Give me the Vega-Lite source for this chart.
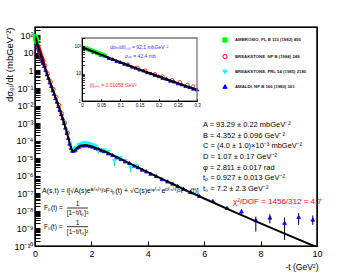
{
  "$schema": "https://vega.github.io/schema/vega-lite/v6.json",
  "width": 282,
  "height": 219,
  "autosize": {"type": "none"},
  "padding": {"left": 35, "top": 27, "right": 37, "bottom": 27},
  "background": "white",
  "config": {
    "view": {"stroke": "black", "strokeWidth": 1.2},
    "font": "Liberation Sans",
    "axis": {"labelFont": "Liberation Sans", "titleFont": "Liberation Sans", "domainColor": "black", "tickColor": "black", "labelColor": "black", "titleColor": "black", "titleFontWeight": "normal", "grid": false, "labelOverlap": false, "labelFlush": false, "labelBound": false}
  },
  "datasets": {
    "curve": [
      {"t":0,"v":92.14},{"t":0.05,"v":48.52},{"t":0.1,"v":26.06},{"t":0.15,"v":14.25},{"t":0.2,"v":7.92},{"t":0.25,"v":4.46},{"t":0.3,"v":2.545},{"t":0.4,"v":0.855},{"t":0.5,"v":0.2966},{"t":0.6,"v":0.1051},{"t":0.7,"v":0.03753},{"t":0.8,"v":0.01332},{"t":0.9,"v":0.004581},{"t":1.0,"v":0.001485},{"t":1.1,"v":0.000431},{"t":1.15,"v":0.0002197},{"t":1.2,"v":0.0001076},{"t":1.25,"v":0.0000531},{"t":1.3,"v":0.0000307},{"t":1.35,"v":0.0000253},{"t":1.4,"v":0.0000281},{"t":1.45,"v":0.0000341},{"t":1.5,"v":0.0000408},{"t":1.6,"v":0.0000513},{"t":1.8,"v":0.0000563},{"t":2.0,"v":0.0000485},{"t":2.5,"v":0.0000233},{"t":3.0,"v":0.00000969},{"t":3.5,"v":0.00000394},{"t":4.0,"v":0.000001611},{"t":4.5,"v":6.66e-7},{"t":5.0,"v":2.79e-7},{"t":5.5,"v":1.186e-7},{"t":6.0,"v":5.1e-8},{"t":7.0,"v":9.75e-9},{"t":8.0,"v":1.94e-9},{"t":9.0,"v":4.0e-10},{"t":10.0,"v":8.5e-11}
    ],
    "pts": [
      {"s":"D","t":0.02,"v":72},{"s":"D","t":0.03,"v":61},{"s":"D","t":0.04,"v":56},{"s":"D","t":0.05,"v":47.5},{"s":"D","t":0.06,"v":43.5},{"s":"D","t":0.07,"v":37},{"s":"D","t":0.08,"v":34},{"s":"D","t":0.09,"v":29},{"s":"D","t":0.1,"v":26.5},{"s":"D","t":0.11,"v":22.8},{"s":"D","t":0.12,"v":20.8},{"s":"D","t":0.13,"v":17.9},{"s":"D","t":0.14,"v":16.3},{"s":"D","t":0.15,"v":14.1},{"s":"D","t":0.16,"v":12.9},{"s":"D","t":0.17,"v":11.1},{"s":"D","t":0.18,"v":10.2},{"s":"D","t":0.19,"v":8.8},{"s":"D","t":0.2,"v":8.0},{"s":"D","t":0.21,"v":6.95},{"s":"D","t":0.22,"v":6.4},{"s":"D","t":0.23,"v":5.5},{"s":"D","t":0.24,"v":5.1},{"s":"D","t":0.25,"v":4.4},{"s":"D","t":0.26,"v":4.05},{"s":"D","t":0.27,"v":3.5},{"s":"D","t":0.28,"v":3.22},{"s":"D","t":0.29,"v":2.8},{"s":"D","t":0.3,"v":2.6},
      {"s":"D","t":0.33,"v":1.8},{"s":"D","t":0.38,"v":1.09},{"s":"D","t":0.43,"v":0.6},{"s":"D","t":0.48,"v":0.375},{"s":"D","t":0.53,"v":0.21},{"s":"D","t":0.58,"v":0.132},{"s":"D","t":0.63,"v":0.075},{"s":"D","t":0.68,"v":0.047},{"s":"D","t":0.73,"v":0.0268},{"s":"D","t":0.78,"v":0.0168},{"s":"D","t":0.83,"v":0.0094},{"s":"D","t":0.88,"v":0.0058},{"s":"D","t":0.93,"v":0.0032},{"s":"D","t":0.98,"v":0.0019},{"s":"D","t":1.03,"v":0.00101},{"s":"D","t":1.08,"v":0.00056},{"s":"D","t":1.13,"v":0.00028},{"s":"D","t":1.18,"v":0.000146},{"s":"D","t":1.23,"v":0.000069},{"s":"D","t":1.28,"v":0.000039},{"s":"D","t":1.33,"v":0.000027},{"s":"D","t":1.38,"v":0.0000275},{"s":"D","t":1.43,"v":0.000031},{"s":"D","t":1.48,"v":0.00004},{"s":"D","t":1.55,"v":0.000045},{"s":"D","t":1.65,"v":0.0000535},{"s":"D","t":1.75,"v":0.000054},{"s":"D","t":1.85,"v":0.000055},{"s":"D","t":1.95,"v":0.0000495},{"s":"D","t":2.05,"v":0.000046},{"s":"D","t":2.15,"v":0.000038},{"s":"D","t":2.25,"v":0.000034},{"s":"D","t":2.35,"v":0.0000285},{"s":"D","t":2.45,"v":0.0000255},{"s":"D","t":2.6,"v":0.000019},{"s":"D","t":2.75,"v":0.0000153},{"s":"D","t":2.9,"v":0.0000112},{"s":"D","t":3.05,"v":0.000009},{"s":"D","t":3.2,"v":0.0000066},{"s":"D","t":3.35,"v":0.0000053},{"s":"D","t":3.5,"v":0.00000385},{"s":"D","t":3.65,"v":0.0000031},{"s":"D","t":3.8,"v":0.00000225},{"s":"D","t":3.95,"v":0.0000018},{"s":"D","t":4.1,"v":0.00000132},{"s":"D","t":4.3,"v":9.7e-7},{"s":"D","t":4.5,"v":6.5e-7},{"s":"D","t":4.7,"v":4.8e-7},{"s":"D","t":4.88,"v":3.6e-7},{"s":"D","t":5.06,"v":2.6e-7},{"s":"D","t":5.27,"v":1.85e-7},{"s":"D","t":5.51,"v":1.22e-7},{"s":"D","t":5.83,"v":7.2e-8},{"s":"D","t":6.31,"v":3.7e-8},{"s":"D","t":6.81,"v":1.5e-8},
      {"s":"D","t":7.32,"v":9.5e-9,"lo":6.5e-9,"hi":1.2e-8},{"s":"D","t":7.83,"v":2.95e-9,"lo":6.6e-10,"hi":4.7e-9},{"s":"D","t":8.33,"v":4.2e-9,"lo":1.95e-9,"hi":6.5e-9},{"s":"D","t":8.85,"v":2.1e-9,"lo":2.2e-10,"hi":4.2e-9},{"s":"D","t":9.35,"v":4.5e-9,"lo":1.6e-9,"hi":7.5e-9},{"s":"D","t":9.85,"v":3.2e-9,"lo":1.6e-9,"hi":5.5e-9},
      {"s":"C","t":1.05,"v":0.00089},{"s":"C","t":1.15,"v":0.00025},{"s":"C","t":1.25,"v":0.000063},{"s":"C","t":1.35,"v":0.000032},{"s":"C","t":1.45,"v":0.00004},{"s":"C","t":1.55,"v":0.000056},{"s":"C","t":1.65,"v":0.000066},{"s":"C","t":1.75,"v":0.000071},{"s":"C","t":1.85,"v":0.000068},{"s":"C","t":1.95,"v":0.000063},{"s":"C","t":2.05,"v":0.000056},{"s":"C","t":2.15,"v":0.000047},{"s":"C","t":2.24,"v":0.00003,"lo":0.000018,"hi":0.000036},{"s":"C","t":2.45,"v":0.000028},{"s":"C","t":2.6,"v":0.000022},{"s":"C","t":2.82,"v":0.0000071,"lo":0.0000035,"hi":0.000009},{"s":"C","t":3.0,"v":0.00001},{"s":"C","t":3.2,"v":0.0000071},{"s":"C","t":3.39,"v":0.0000028,"lo":0.0000016,"hi":0.0000035},{"s":"C","t":3.6,"v":0.0000035},
      {"s":"B","t":0.12,"v":21.5},{"s":"B","t":0.145,"v":16.2},{"s":"B","t":0.165,"v":12.9},{"s":"B","t":0.19,"v":9.6},{"s":"B","t":0.21,"v":7.9},{"s":"B","t":0.235,"v":5.8},{"s":"B","t":0.255,"v":4.9},{"s":"B","t":0.275,"v":3.9},{"s":"B","t":0.29,"v":3.4},{"s":"B","t":0.35,"v":1.9},{"s":"B","t":0.45,"v":0.66},{"s":"B","t":0.55,"v":0.23},{"s":"B","t":0.65,"v":0.085},{"s":"B","t":0.75,"v":0.03},{"s":"B","t":0.85,"v":0.0105},{"s":"B","t":0.95,"v":0.0035},{"s":"B","t":1.05,"v":0.00105},{"s":"B","t":1.15,"v":0.00028},
      {"s":"A","t":0.005,"v":88},{"s":"A","t":0.01,"v":84},{"s":"A","t":0.015,"v":78},{"s":"A","t":0.02,"v":74},{"s":"A","t":0.025,"v":70},{"s":"A","t":0.03,"v":66},{"s":"A","t":0.035,"v":61},{"s":"A","t":0.04,"v":57},{"s":"A","t":0.045,"v":54},{"s":"A","t":0.05,"v":51},{"s":"A","t":0.055,"v":47},{"s":"A","t":0.06,"v":44}
    ]
  },
  "layer": [
    {
      "layer": [
        {"data": {"values": [{"k": 0}]},
         "mark": {"type": "rect", "fill": "transparent", "stroke": "black", "strokeWidth": 1.2},
         "encoding": {"x": {"datum": 0, "type": "quantitative", "scale": {"domain": [0, 10], "nice": false, "zero": false}}, "x2": {"datum": 10}, "y": {"datum": 1e-10, "type": "quantitative", "scale": {"type": "log", "domain": [1e-10, 300], "nice": false}}, "y2": {"datum": 300}}},
        {"data": {"name": "pts"}, "transform": [{"filter": "datum.s == 'D' && isValid(datum.lo)"}],
         "mark": {"type": "rule", "color": "black", "strokeWidth": 1},
         "encoding": {"x": {"field": "t", "type": "quantitative", "scale": {"domain": [0, 10], "nice": false, "zero": false}}, "y": {"field": "lo", "type": "quantitative", "scale": {"type": "log", "domain": [1e-10, 300], "nice": false}}, "y2": {"field": "hi"}}},
        {"data": {"name": "pts"}, "transform": [{"filter": "datum.s == 'C' && isValid(datum.lo)"}],
         "mark": {"type": "rule", "color": "#00e0e0", "strokeWidth": 1},
         "encoding": {"x": {"field": "t", "type": "quantitative", "scale": {"domain": [0, 10], "nice": false, "zero": false}}, "y": {"field": "lo", "type": "quantitative", "scale": {"type": "log", "domain": [1e-10, 300], "nice": false}}, "y2": {"field": "hi"}}},
        {"data": {"name": "pts"},
         "mark": {"type": "point", "size": 14, "strokeWidth": 0.8, "opacity": 1},
         "encoding": {
           "x": {"field": "t", "type": "quantitative", "scale": {"domain": [0, 10], "nice": false, "zero": false},
             "axis": {"values": [0,0.5,1,1.5,2,2.5,3,3.5,4,4.5,5,5.5,6,6.5,7,7.5,8,8.5,9,9.5,10],
               "labelExpr": "datum.value % 2 == 0 ? format(datum.value, 'd') : ''",
               "labelOverlap": false, "labelFlush": false, "labelFontSize": 9, "labelPadding": 8,
               "tickSize": -5, "tickWidth": 1, "domain": false,
               "title": "-t (GeV²)", "titleFontSize": 8.5, "titleX": 283, "titleY": 20, "titleAlign": "right", "titleBaseline": "middle", "titleAnchor": "end"}},
           "y": {"field": "v", "type": "quantitative", "scale": {"type": "log", "domain": [1e-10, 300], "nice": false},
             "axis": {"values": [1e-10,2e-10,3e-10,4e-10,5e-10,6e-10,7e-10,8e-10,9e-10,1e-9,2e-9,3e-9,4e-9,5e-9,6e-9,7e-9,8e-9,9e-9,1e-8,2e-8,3e-8,4e-8,5e-8,6e-8,7e-8,8e-8,9e-8,1e-7,2e-7,3e-7,4e-7,5e-7,6e-7,7e-7,8e-7,9e-7,1e-6,2e-6,3e-6,4e-6,5e-6,6e-6,7e-6,8e-6,9e-6,1e-5,2e-5,3e-5,4e-5,5e-5,6e-5,7e-5,8e-5,9e-5,1e-4,2e-4,3e-4,4e-4,5e-4,6e-4,7e-4,8e-4,9e-4,0.001,0.002,0.003,0.004,0.005,0.006,0.007,0.008,0.009,0.01,0.02,0.03,0.04,0.05,0.06,0.07,0.08,0.09,0.1,0.2,0.3,0.4,0.5,0.6,0.7,0.8,0.9,1,2,3,4,5,6,7,8,9,10,20,30,40,50,60,70,80,90,100,200,300],
               "labelExpr": "abs(log(datum.value)/LN10 - round(log(datum.value)/LN10)) > 0.001 ? '' : datum.value > 50 ? '10²' : datum.value > 5 ? '10' : datum.value > 0.5 ? '1' : datum.value > 0.05 ? '10⁻¹' : datum.value > 0.005 ? '10⁻²' : datum.value > 0.0005 ? '10⁻³' : datum.value > 0.00005 ? '10⁻⁴' : datum.value > 0.000005 ? '10⁻⁵' : datum.value > 0.0000005 ? '10⁻⁶' : datum.value > 0.00000005 ? '10⁻⁷' : datum.value > 0.000000005 ? '10⁻⁸' : datum.value > 0.0000000005 ? '10⁻⁹' : '10⁻¹⁰'",
               "labelOverlap": false, "labelFlush": false, "labelFontSize": 9, "labelPadding": 7,
               "tickSize": -5, "tickWidth": 1, "domain": false,
               "title": "dσₑₗ/dt (mbGeV⁻²)", "titleFontSize": 9.5, "titleAngle": -90, "titleX": -26, "titleY": 0, "titleAlign": "right", "titleBaseline": "middle", "titleAnchor": "end"}},
           "shape": {"field": "s", "type": "nominal", "scale": {"domain": ["A","B","C","D"], "range": ["square","circle","triangle-down","triangle-up"]},
             "legend": {"title": null, "orient": "none", "legendX": 187, "legendY": 10, "padding": 0, "labelFontSize": 4.3, "labelFont": "Liberation Sans Narrow, Liberation Sans", "labelFontWeight": "bold", "labelColor": "#222", "symbolSize": 18, "symbolStrokeWidth": 1, "rowPadding": 6.5, "labelOffset": 7, "labelLimit": 200,
               "labelExpr": "datum.label == 'A' ? 'AMBROSIO, PL B 115 (1982) 495' : datum.label == 'B' ? 'BREAKSTONE, NP B (1984) 248' : datum.label == 'C' ? 'BREAKSTONE, PRL 54 (1985) 2180' : 'AMALDI, NP B 166 (1980) 301'"}},
           "fill": {"field": "s", "type": "nominal", "scale": {"domain": ["A","B","C","D"], "range": ["#00ff00","transparent","#00ffff","#0000ff"]},
             "legend": {"title": null, "orient": "none", "legendX": 187, "legendY": 10, "padding": 0, "labelFontSize": 4.3, "labelFont": "Liberation Sans Narrow, Liberation Sans", "labelFontWeight": "bold", "labelColor": "#222", "symbolSize": 18, "symbolStrokeWidth": 1, "rowPadding": 6.5, "labelOffset": 7, "labelLimit": 200,
               "labelExpr": "datum.label == 'A' ? 'AMBROSIO, PL B 115 (1982) 495' : datum.label == 'B' ? 'BREAKSTONE, NP B (1984) 248' : datum.label == 'C' ? 'BREAKSTONE, PRL 54 (1985) 2180' : 'AMALDI, NP B 166 (1980) 301'"}},
           "stroke": {"field": "s", "type": "nominal", "scale": {"domain": ["A","B","C","D"], "range": ["#00ff00","#ff0000","#00ffff","#0000ff"]},
             "legend": {"title": null, "orient": "none", "legendX": 187, "legendY": 10, "padding": 0, "labelFontSize": 4.3, "labelFont": "Liberation Sans Narrow, Liberation Sans", "labelFontWeight": "bold", "labelColor": "#222", "symbolSize": 18, "symbolStrokeWidth": 1, "rowPadding": 6.5, "labelOffset": 7, "labelLimit": 200,
               "labelExpr": "datum.label == 'A' ? 'AMBROSIO, PL B 115 (1982) 495' : datum.label == 'B' ? 'BREAKSTONE, NP B (1984) 248' : datum.label == 'C' ? 'BREAKSTONE, PRL 54 (1985) 2180' : 'AMALDI, NP B 166 (1980) 301'"}}
         }},
        {"data": {"name": "curve"}, "mark": {"type": "line", "color": "black", "strokeWidth": 2, "clip": true},
         "encoding": {"x": {"field": "t", "type": "quantitative", "scale": {"domain": [0, 10], "nice": false, "zero": false}}, "y": {"field": "v", "type": "quantitative", "scale": {"type": "log", "domain": [1e-10, 300], "nice": false}}}},
        {"data": {"values": [{"k": 1}]},
         "mark": {"type": "text", "align": "left", "baseline": "top", "fontSize": 7.5, "lineHeight": 10.67, "font": "Liberation Sans",
           "text": ["A = 93.29  ± 0.22 mbGeV⁻²", "B = 4.352 ± 0.096 GeV⁻²", "C = (4.0 ± 1.0)×10⁻³ mbGeV⁻²", "D = 1.07 ± 0.17 GeV⁻²", "φ = 2.811 ± 0.017 rad", "tₚ = 0.927 ± 0.013 GeV⁻²", "t₀ = 7.2 ± 2.3 GeV⁻²"]},
         "encoding": {"x": {"datum": 5.957, "type": "quantitative", "scale": {"domain": [0, 10], "nice": false, "zero": false}}, "y": {"datum": 0.00133, "type": "quantitative", "scale": {"type": "log", "domain": [1e-10, 300], "nice": false}}}},
        {"data": {"values": [{"k": 2}]},
         "mark": {"type": "text", "align": "left", "baseline": "middle", "fontSize": 8, "color": "#ff0000", "font": "Liberation Sans", "text": "χ²/DOF = 1456/312 = 4.7"},
         "encoding": {"x": {"datum": 7.02, "type": "quantitative", "scale": {"domain": [0, 10], "nice": false, "zero": false}}, "y": {"datum": 3.21e-8, "type": "quantitative", "scale": {"type": "log", "domain": [1e-10, 300], "nice": false}}}},
        {"data": {"values": [{"k": 3}]},
         "mark": {"type": "text", "align": "left", "baseline": "middle", "fontSize": 7, "font": "Liberation Sans", "text": "A(s,t) = i[√A(s)eᴮ⁽ˢ⁾ᵗ/²F²ₚ(t) + √C(s)eⁱᵠ⁽ˢ⁾eᴰ⁽ˢ⁾ᵗ/²F²₀(t)]"},
         "encoding": {"x": {"datum": 0.248, "type": "quantitative", "scale": {"domain": [0, 10], "nice": false, "zero": false}}, "y": {"datum": 1.36e-7, "type": "quantitative", "scale": {"type": "log", "domain": [1e-10, 300], "nice": false}}}},
        {"data": {"values": [{"k": 4}]},
         "mark": {"type": "text", "align": "left", "baseline": "middle", "fontSize": 6.5, "font": "Liberation Sans", "text": "Fₚ(t) ="},
         "encoding": {"x": {"datum": 0.319, "type": "quantitative", "scale": {"domain": [0, 10], "nice": false, "zero": false}}, "y": {"datum": 1.46e-8, "type": "quantitative", "scale": {"type": "log", "domain": [1e-10, 300], "nice": false}}}},
        {"data": {"values": [{"k": 5}]},
         "mark": {"type": "text", "align": "center", "baseline": "middle", "fontSize": 6.5, "font": "Liberation Sans", "text": "1"},
         "encoding": {"x": {"datum": 1.507, "type": "quantitative", "scale": {"domain": [0, 10], "nice": false, "zero": false}}, "y": {"datum": 2.47e-8, "type": "quantitative", "scale": {"type": "log", "domain": [1e-10, 300], "nice": false}}}},
        {"data": {"values": [{"k": 6}]},
         "mark": {"type": "rule", "color": "black", "strokeWidth": 0.8},
         "encoding": {"x": {"datum": 1.135, "type": "quantitative", "scale": {"domain": [0, 10], "nice": false, "zero": false}}, "x2": {"datum": 1.879}, "y": {"datum": 1.46e-8, "type": "quantitative", "scale": {"type": "log", "domain": [1e-10, 300], "nice": false}}}},
        {"data": {"values": [{"k": 7}]},
         "mark": {"type": "text", "align": "center", "baseline": "middle", "fontSize": 6.5, "font": "Liberation Sans", "text": "[1−t/tₚ]²"},
         "encoding": {"x": {"datum": 1.507, "type": "quantitative", "scale": {"domain": [0, 10], "nice": false, "zero": false}}, "y": {"datum": 7.59e-9, "type": "quantitative", "scale": {"type": "log", "domain": [1e-10, 300], "nice": false}}}},
        {"data": {"values": [{"k": 8}]},
         "mark": {"type": "text", "align": "left", "baseline": "middle", "fontSize": 6.5, "font": "Liberation Sans", "text": "F₀(t) ="},
         "encoding": {"x": {"datum": 0.319, "type": "quantitative", "scale": {"domain": [0, 10], "nice": false, "zero": false}}, "y": {"datum": 1.26e-9, "type": "quantitative", "scale": {"type": "log", "domain": [1e-10, 300], "nice": false}}}},
        {"data": {"values": [{"k": 9}]},
         "mark": {"type": "text", "align": "center", "baseline": "middle", "fontSize": 6.5, "font": "Liberation Sans", "text": "1"},
         "encoding": {"x": {"datum": 1.507, "type": "quantitative", "scale": {"domain": [0, 10], "nice": false, "zero": false}}, "y": {"datum": 2.13e-9, "type": "quantitative", "scale": {"type": "log", "domain": [1e-10, 300], "nice": false}}}},
        {"data": {"values": [{"k": 10}]},
         "mark": {"type": "rule", "color": "black", "strokeWidth": 0.8},
         "encoding": {"x": {"datum": 1.135, "type": "quantitative", "scale": {"domain": [0, 10], "nice": false, "zero": false}}, "x2": {"datum": 1.879}, "y": {"datum": 1.26e-9, "type": "quantitative", "scale": {"type": "log", "domain": [1e-10, 300], "nice": false}}}},
        {"data": {"values": [{"k": 11}]},
         "mark": {"type": "text", "align": "center", "baseline": "middle", "fontSize": 6.5, "font": "Liberation Sans", "text": "[1−t/t₀]²"},
         "encoding": {"x": {"datum": 1.507, "type": "quantitative", "scale": {"domain": [0, 10], "nice": false, "zero": false}}, "y": {"datum": 6.53e-10, "type": "quantitative", "scale": {"type": "log", "domain": [1e-10, 300], "nice": false}}}}
      ]
    },
    {
      "layer": [
        {"data": {"name": "pts"}, "transform": [{"filter": "datum.t <= 0.301"}],
         "mark": {"type": "point", "size": 11, "strokeWidth": 0.8, "opacity": 1},
         "encoding": {
           "x": {"field": "t", "type": "quantitative", "scale": {"domain": [0, 0.3], "range": [47, 162], "nice": false, "zero": false},
             "axis": {"orient": "bottom", "offset": -145, "zindex": 1,
               "values": [0,0.05,0.1,0.15,0.2,0.25,0.3],
               "format": "~g",
               "labelOverlap": false, "labelFlush": false, "labelFontSize": 4.5, "labelPadding": 4,
               "tickSize": -2.5, "tickWidth": 0.8, "domain": true, "domainWidth": 1, "title": null}},
           "y": {"field": "v", "type": "quantitative", "scale": {"type": "log", "domain": [1, 200], "range": [74, 11], "nice": false},
             "axis": {"orient": "left", "offset": -47, "zindex": 1,
               "values": [1,2,3,4,5,6,7,8,9,10,20,30,40,50,60,70,80,90,100,200],
               "labelExpr": "datum.value == 1 ? '1' : datum.value == 10 ? '10' : datum.value == 100 ? '10²' : ''",
               "labelOverlap": false, "labelFlush": false, "labelFontSize": 4.5, "labelPadding": 4,
               "tickSize": -2.5, "tickWidth": 0.8, "domain": true, "domainWidth": 1, "title": null}},
           "shape": {"field": "s", "type": "nominal", "scale": {"domain": ["A","B","C","D"], "range": ["square","circle","triangle-down","triangle-up"]},
             "legend": {"title": null, "orient": "none", "legendX": 187, "legendY": 10, "padding": 0, "labelFontSize": 4.3, "labelFont": "Liberation Sans Narrow, Liberation Sans", "labelFontWeight": "bold", "labelColor": "#222", "symbolSize": 18, "symbolStrokeWidth": 1, "rowPadding": 6.5, "labelOffset": 7, "labelLimit": 200,
               "labelExpr": "datum.label == 'A' ? 'AMBROSIO, PL B 115 (1982) 495' : datum.label == 'B' ? 'BREAKSTONE, NP B (1984) 248' : datum.label == 'C' ? 'BREAKSTONE, PRL 54 (1985) 2180' : 'AMALDI, NP B 166 (1980) 301'"}},
           "fill": {"field": "s", "type": "nominal", "scale": {"domain": ["A","B","C","D"], "range": ["#00ff00","transparent","#00ffff","#0000ff"]},
             "legend": {"title": null, "orient": "none", "legendX": 187, "legendY": 10, "padding": 0, "labelFontSize": 4.3, "labelFont": "Liberation Sans Narrow, Liberation Sans", "labelFontWeight": "bold", "labelColor": "#222", "symbolSize": 18, "symbolStrokeWidth": 1, "rowPadding": 6.5, "labelOffset": 7, "labelLimit": 200,
               "labelExpr": "datum.label == 'A' ? 'AMBROSIO, PL B 115 (1982) 495' : datum.label == 'B' ? 'BREAKSTONE, NP B (1984) 248' : datum.label == 'C' ? 'BREAKSTONE, PRL 54 (1985) 2180' : 'AMALDI, NP B 166 (1980) 301'"}},
           "stroke": {"field": "s", "type": "nominal", "scale": {"domain": ["A","B","C","D"], "range": ["#00ff00","#ff0000","#00ffff","#0000ff"]},
             "legend": {"title": null, "orient": "none", "legendX": 187, "legendY": 10, "padding": 0, "labelFontSize": 4.3, "labelFont": "Liberation Sans Narrow, Liberation Sans", "labelFontWeight": "bold", "labelColor": "#222", "symbolSize": 18, "symbolStrokeWidth": 1, "rowPadding": 6.5, "labelOffset": 7, "labelLimit": 200,
               "labelExpr": "datum.label == 'A' ? 'AMBROSIO, PL B 115 (1982) 495' : datum.label == 'B' ? 'BREAKSTONE, NP B (1984) 248' : datum.label == 'C' ? 'BREAKSTONE, PRL 54 (1985) 2180' : 'AMALDI, NP B 166 (1980) 301'"}}
         }},
        {"data": {"name": "curve"}, "transform": [{"filter": "datum.t <= 0.301"}],
         "mark": {"type": "line", "color": "black", "strokeWidth": 2.2},
         "encoding": {"x": {"field": "t", "type": "quantitative", "scale": {"domain": [0, 0.3], "range": [47, 162], "nice": false, "zero": false}}, "y": {"field": "v", "type": "quantitative", "scale": {"type": "log", "domain": [1, 200], "range": [74, 11], "nice": false}}}},
        {"data": {"values": [{"k": 13}]},
         "mark": {"type": "text", "align": "left", "baseline": "middle", "fontSize": 5, "color": "#3333ff", "font": "Liberation Sans", "text": "dσₑₗ/dt|ₜ₌₀ = 92.1 mbGeV⁻²"},
         "encoding": {"x": {"datum": 0.073, "type": "quantitative", "scale": {"domain": [0, 0.3], "range": [47, 162], "nice": false, "zero": false}}, "y": {"datum": 93.8, "type": "quantitative", "scale": {"type": "log", "domain": [1, 200], "range": [74, 11], "nice": false}}}},
        {"data": {"values": [{"k": 14}]},
         "mark": {"type": "text", "align": "left", "baseline": "middle", "fontSize": 5, "color": "#3333ff", "font": "Liberation Sans", "text": "σₜₒₜ = 42.4 mb"},
         "encoding": {"x": {"datum": 0.112, "type": "quantitative", "scale": {"domain": [0, 0.3], "range": [47, 162], "nice": false, "zero": false}}, "y": {"datum": 44, "type": "quantitative", "scale": {"type": "log", "domain": [1, 200], "range": [74, 11], "nice": false}}}},
        {"data": {"values": [{"k": 15}]},
         "mark": {"type": "text", "align": "left", "baseline": "middle", "fontSize": 5, "color": "#ff2222", "font": "Liberation Sans", "text": "|t|ₘᵢₙ = 0.01058 GeV²"},
         "encoding": {"x": {"datum": 0.0209, "type": "quantitative", "scale": {"domain": [0, 0.3], "range": [47, 162], "nice": false, "zero": false}}, "y": {"datum": 3.84, "type": "quantitative", "scale": {"type": "log", "domain": [1, 200], "range": [74, 11], "nice": false}}}},
        {"data": {"values": [{"k": 12}]},
         "mark": {"type": "rect", "fill": "transparent", "stroke": "#777777", "strokeWidth": 1.3},
         "encoding": {"x": {"datum": 0, "type": "quantitative", "scale": {"domain": [0, 0.3], "range": [47, 162], "nice": false, "zero": false}}, "x2": {"datum": 0.3}, "y": {"datum": 1, "type": "quantitative", "scale": {"type": "log", "domain": [1, 200], "range": [74, 11], "nice": false}}, "y2": {"datum": 200}}}
      ]
    }
  ],
  "resolve": {"scale": {"x": "independent", "y": "independent"}}
}
